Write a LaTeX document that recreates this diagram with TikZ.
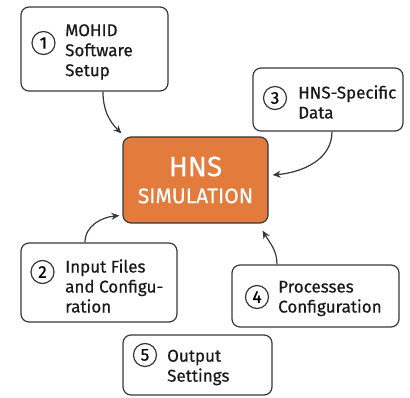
\documentclass[tikz,border=0pt]{standalone}
\usepackage{fontspec}
\setmainfont{Fira Sans}[FakeBold=0.5]
\usetikzlibrary{arrows.meta}
\definecolor{hnsorange}{HTML}{E37B3D}
\definecolor{boxline}{HTML}{383838}
\begin{document}
\begin{tikzpicture}[x=1pt, y=1pt,
    stepbox/.style={draw=boxline, line width=1.2pt, rounded corners=8pt, fill=white},
    numcirc/.style={draw=boxline, circle, line width=1.2pt, minimum size=23pt, inner sep=0pt, font=\fontsize{17}{17}\selectfont},
    boxtext/.style={anchor=west, align=left, inner sep=0pt, text=black!90, font=\fontsize{17}{20}\selectfont},
    flow/.style={-{Stealth[length=8pt, width=7pt]}, line width=1.2pt, draw=boxline}]
  \useasboundingbox (0,0) rectangle (410,397);

  % Define the nodes
  \node[stepbox, minimum width=147pt, minimum height=84pt] (b1) at (94.5,348) {};
  \node[numcirc] (c1) at (43.5,354) {1};
  \node[boxtext] (t1) at (65,345) {MOHID\\Software\\Setup};

  \node[stepbox, minimum width=150pt, minimum height=63pt] (b3) at (328,297.5) {};
  \node[numcirc] (c3) at (275,299) {3};
  \node[boxtext] (t3) at (298,295) {HNS-Specific\\Data};

  \node[stepbox, fill=hnsorange, minimum width=145pt, minimum height=86pt,
        text=white, align=center, font=\fontsize{21}{27}\selectfont] (hns) at (195.5,217)
        {{\fontsize{28}{28}\selectfont HNS}\\SIMULATION};

  \node[stepbox, minimum width=156pt, minimum height=79pt] (b2) at (99,114.5) {};
  \node[numcirc] (c2) at (42.5,125) {2};
  \node[boxtext] (t2) at (65,111) {Input Files\\and Configu-\\ration};

  \node[stepbox, minimum width=167pt, minimum height=62pt] (b4) at (315.5,101) {};
  \node[numcirc] (c4) at (257,100) {4};
  \node[boxtext] (t4) at (278,98.5) {Processes\\Configuration};

  \node[stepbox, minimum width=149pt, minimum height=60pt] (b5) at (197.5,32) {};
  \node[numcirc] (c5) at (145,42) {5};
  \node[boxtext] (t5) at (167,29.5) {Output\\Settings};

  % Draw the edges
  \draw[flow] ([xshift=8.5pt]b1.south) to[out=-90, in=135] ([shift={(-1pt,3pt)}]hns.north west);
  \draw[flow] ([xshift=4pt]b3.south) to[out=-90, in=5] ([shift={(4pt,5pt)}]hns.east);
  \draw[flow] ([xshift=-14pt]b2.north) to[out=90, in=185] ([shift={(-3pt,8pt)}]hns.south west);
  \draw[flow] ([xshift=-38.5pt]b4.north) to[out=90, in=-60] ([shift={(-6pt,-7pt)}]hns.south east);
\end{tikzpicture}
\end{document}
